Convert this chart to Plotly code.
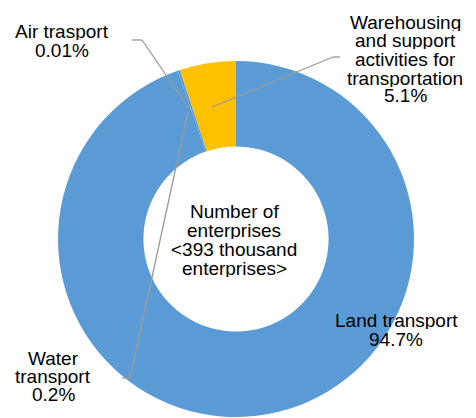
import plotly.graph_objects as go

# ---- data ----
categories = ["Land transport", "Water transport", "Air trasport",
              "Warehousing and support activities for transportation"]
shares = [94.7, 0.2, 0.01, 5.1]
share_labels = ["94.7%", "0.2%", "0.01%", "5.1%"]
center_text = ["Number of", "enterprises", "<393 thousand", "enterprises>"]

colors = ["#5B9BD5", "#5B9BD5", "#5B9BD5", "#FFC000"]

# page body adds an 8px margin; compensate so positions match the target
OFF = 8
W, H = 476 - OFF, 418 - OFF


def px(x):
    return (x - OFF) / W


def py(y):
    return 1 - (y - OFF) / H


fig = go.Figure(go.Pie(
    labels=categories,
    values=shares,
    hole=0.52,
    sort=False,
    direction="clockwise",
    rotation=0,
    textinfo="none",
    hoverinfo="label+percent",
    marker=dict(colors=colors, line=dict(width=0)),
    showlegend=False,
    domain=dict(x=[px(236 - 178), px(236 + 178)], y=[py(417), py(61)]),
))

FONT = dict(family="Liberation Sans, Arial, sans-serif", size=19, color="#000000")

label_blocks = [
    (["Air trasport", share_labels[2]], 62, [30, 49]),
    (["Warehousing", "and support", "activities for", "transportation", share_labels[3]],
     405, [21, 39, 58, 77, 94]),
    (["Land transport", share_labels[0]], 396, [319, 338]),
    (["Water", "transport", share_labels[1]], 53, [357, 375, 393]),
    (center_text, 234, [210, 229, 248, 267]),
]

annotations = []
for lines, cx, ys in label_blocks:
    for text, cy in zip(lines, ys):
        annotations.append(dict(
            text=text, x=px(cx), y=py(cy + 1), xref="paper", yref="paper",
            xanchor="center", yanchor="middle", showarrow=False, font=FONT,
            height=18, valign="middle",
        ))

LINE = dict(color="#9A9A9A", width=1.3)
leader_paths = [
    [(132, 40), (142, 40), (190, 110)],          # air
    [(122, 378), (130, 378), (188, 112)],        # water
    [(340, 57), (333, 57), (212, 107)],          # warehousing
]
shapes = []
for pts in leader_paths:
    for (x0, y0), (x1, y1) in zip(pts[:-1], pts[1:]):
        shapes.append(dict(type="line", xref="paper", yref="paper",
                           x0=px(x0), y0=py(y0), x1=px(x1), y1=py(y1), line=LINE))

fig.update_layout(
    width=W, height=H,
    margin=dict(l=0, r=0, t=0, b=0),
    paper_bgcolor="#FFFFFF",
    plot_bgcolor="#FFFFFF",
    annotations=annotations,
    shapes=shapes,
)

fig.write_html("out.html")
